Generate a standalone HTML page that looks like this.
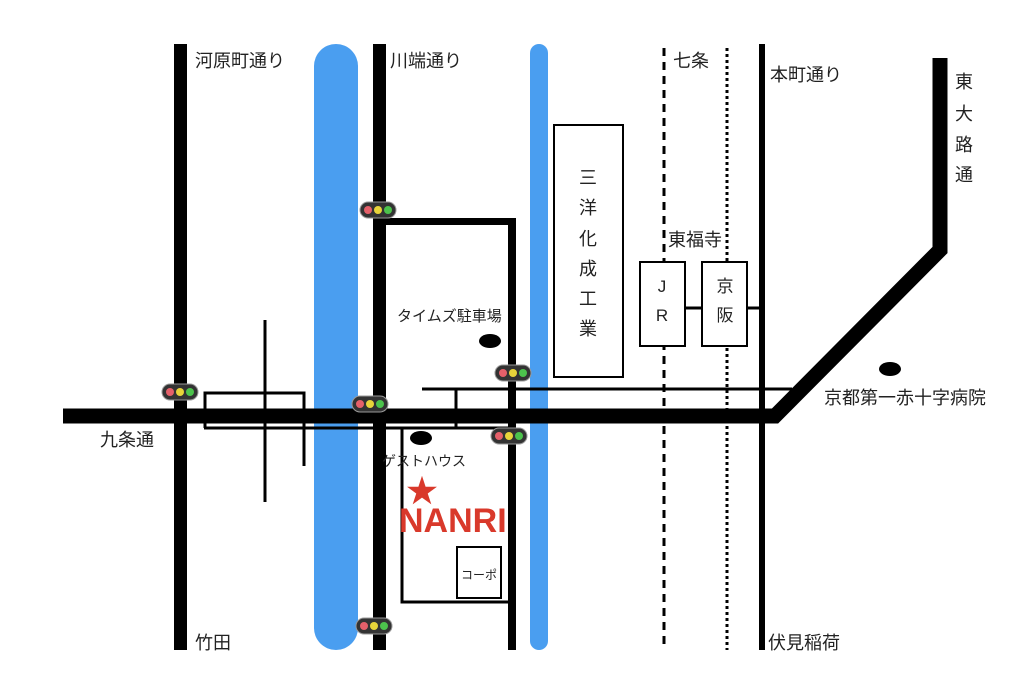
<!DOCTYPE html>
<html><head><meta charset="utf-8"><style>
html,body{margin:0;padding:0;background:#fff}
svg{display:block}
text{font-family:"Liberation Sans","Noto Sans CJK JP",sans-serif;fill:#222}
</style></head><body>
<svg width="1024" height="690" viewBox="0 0 1024 690" xmlns="http://www.w3.org/2000/svg">
<defs>
<g id="tl">
<rect x="-18" y="-8" width="36" height="16" rx="8" fill="#333" stroke="#999" stroke-width="1"/>
<circle cx="-10" cy="0" r="4" fill="#e5606a"/>
<circle cx="0" cy="0" r="4" fill="#e8d43a"/>
<circle cx="10" cy="0" r="4" fill="#4cc34c"/>
</g>
</defs>
<rect x="314" y="44" width="44" height="606" rx="22" fill="#4a9ef0"/>
<rect x="530" y="44" width="18" height="606" rx="9" fill="#4a9ef0"/>
<rect x="174" y="44" width="13" height="606" fill="#000"/>
<rect x="373" y="44" width="13" height="606" fill="#000"/>
<rect x="508" y="218" width="8" height="432" fill="#000"/>
<rect x="380" y="218" width="136" height="7" fill="#000"/>
<rect x="759" y="44" width="6" height="606" fill="#000"/>
<line x1="664" y1="48" x2="664" y2="650" stroke="#000" stroke-width="3" stroke-dasharray="8,6"/>
<line x1="727" y1="48" x2="727" y2="650" stroke="#000" stroke-width="3" stroke-dasharray="3,3"/>
<polyline points="63,416 775,416 940,250 940,58" fill="none" stroke="#000" stroke-width="15"/>
<line x1="422" y1="389" x2="792" y2="389" stroke="#000" stroke-width="3"/>
<line x1="456" y1="389" x2="456" y2="428" stroke="#000" stroke-width="3"/>
<line x1="204" y1="428" x2="512" y2="428" stroke="#000" stroke-width="3"/>
<polyline points="205,428 205,393 304,393 304,466" fill="none" stroke="#000" stroke-width="3"/>
<line x1="265" y1="320" x2="265" y2="502" stroke="#000" stroke-width="3"/>
<polyline points="402,428 402,602 512,602" fill="none" stroke="#000" stroke-width="3"/>
<rect x="457" y="547" width="44" height="51" fill="#fff" stroke="#000" stroke-width="2"/>
<text x="479" y="579" font-size="12" text-anchor="middle">コーポ</text>
<rect x="554" y="125" width="69" height="252" fill="#fff" stroke="#000" stroke-width="2"/>
<g font-size="18" text-anchor="middle">
<text x="588" y="184">三</text><text x="588" y="214">洋</text><text x="588" y="245">化</text>
<text x="588" y="275">成</text><text x="588" y="305">工</text><text x="588" y="335">業</text>
</g>
<line x1="685" y1="308" x2="702" y2="308" stroke="#000" stroke-width="3"/>
<line x1="747" y1="308" x2="762" y2="308" stroke="#000" stroke-width="3"/>
<rect x="640" y="262" width="45" height="84" fill="#fff" stroke="#000" stroke-width="2"/>
<rect x="702" y="262" width="45" height="84" fill="#fff" stroke="#000" stroke-width="2"/>
<g font-size="17" text-anchor="middle">
<text x="662" y="292">J</text><text x="662" y="321">R</text>
<text x="725" y="292">京</text><text x="725" y="321">阪</text>
</g>
<ellipse cx="490" cy="341" rx="11" ry="7" fill="#000"/>
<ellipse cx="421" cy="438" rx="11" ry="7" fill="#000"/>
<ellipse cx="890" cy="369" rx="11" ry="7" fill="#000"/>
<use href="#tl" x="180" y="392"/>
<use href="#tl" x="370" y="404"/>
<use href="#tl" x="378" y="210"/>
<use href="#tl" x="513" y="373"/>
<use href="#tl" x="509" y="436"/>
<use href="#tl" x="374" y="626"/>
<g font-size="18">
<text x="195" y="67">河原町通り</text>
<text x="390" y="67">川端通り</text>
<text x="673" y="67">七条</text>
<text x="770" y="81">本町通り</text>
<text x="668" y="246">東福寺</text>
<text x="824" y="404">京都第一赤十字病院</text>
<text x="100" y="446">九条通</text>
<text x="195" y="649">竹田</text>
<text x="768" y="649">伏見稲荷</text>
</g>
<text x="397" y="321" font-size="15">タイムズ駐車場</text>
<text x="382" y="466" font-size="14">ゲストハウス</text>
<g font-size="18" text-anchor="middle">
<text x="964" y="88">東</text><text x="964" y="120">大</text><text x="964" y="151">路</text><text x="964" y="181">通</text>
</g>
<text x="422" y="502" font-size="32" text-anchor="middle" style="fill:#d9392b">★</text>
<text x="399" y="532" font-size="34" font-weight="bold" style="fill:#d9392b">NANRI</text>
</svg>
</body></html>
